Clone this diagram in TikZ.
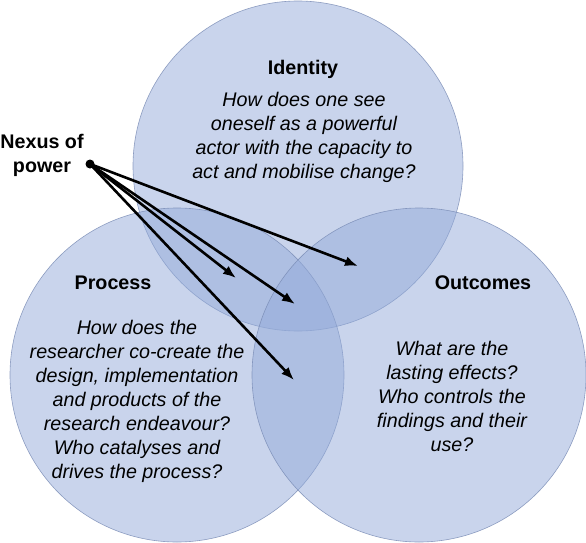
\documentclass[tikz,border=0pt]{standalone}
\usepackage{fontspec}
\setmainfont{Liberation Sans}
\usetikzlibrary{arrows.meta}
\definecolor{vennblue}{RGB}{147,170,217}
\definecolor{vennline}{RGB}{120,138,180}

\begin{document}
\begin{tikzpicture}[x=1pt,y=-1pt,
  venn/.style={circle,minimum size=#1,inner sep=0pt,fill=vennblue,fill opacity=0.5,
    draw=vennline,draw opacity=0.8,line width=0.6pt},
  title/.style={font=\fontsize{19.7}{24}\selectfont\bfseries},
  body/.style={font=\fontsize{19.7}{24}\selectfont\itshape,align=center},
  powerarrow/.style={line width=2.6pt,-{Latex[length=13pt,width=10pt]}}]
  \useasboundingbox (0,0) rectangle (586,543);
  \node[venn=330pt] (I) at (298,166) {};
  \node[venn=334pt] (P) at (177,375) {};
  \node[venn=334pt] (O) at (419,375) {};
  \node[title] (It) at (303,69) {Identity};
  \node[body] (Ib) at (304,137) {How does one see\\oneself as a powerful\\actor with the capacity to\\act and mobilise change?};
  \node[title] (Pt) at (113,283) {Process};
  \node[body] (Pb) at (137,401) {How does the\\researcher co-create the\\design, implementation\\and products of the\\research endeavour?\\Who catalyses and\\drives the process?};
  \node[title] (Ot) at (483,283) {Outcomes};
  \node[body] (Ob) at (452,396) {What are the\\lasting effects?\\Who controls the\\findings and their\\use?};
  \node[title,align=center] (Nt) at (42,155) {Nexus of\\power};
  \node[circle,fill=black,inner sep=0pt,minimum size=9pt] (N) at (90,164) {};
  \coordinate (a1) at (358,266);
  \coordinate (a2) at (236,278);
  \coordinate (a3) at (295,304);
  \coordinate (a4) at (294,380);
  \foreach \t in {a1,a2,a3,a4}
    \draw[powerarrow] (N.center) -- (\t);
\end{tikzpicture}
\end{document}
